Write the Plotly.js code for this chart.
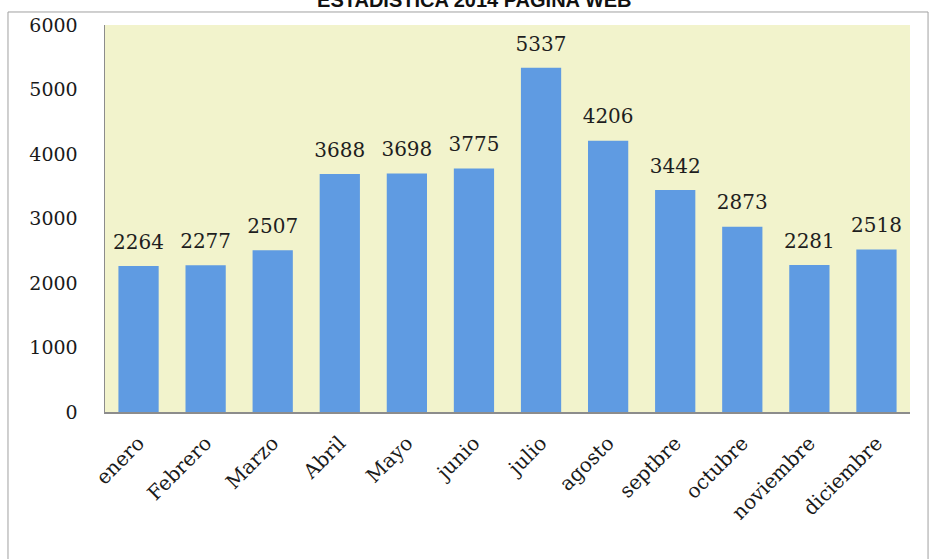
<!DOCTYPE html>
<html>
<head>
<meta charset="utf-8">
<script src="https://cdn.plot.ly/plotly-3.0.1.min.js"></script>
<style>
  html, body { margin: 0; padding: 0; background: #ffffff; }
  #chart { width: 930px; height: 559px; }
</style>
</head>
<body>
<div id="chart"></div>
<script>
const months = ["enero", "Febrero", "Marzo", "Abril", "Mayo", "junio", "julio", "agosto", "septbre", "octubre", "noviembre", "diciembre"];
const visits = [2264, 2277, 2507, 3688, 3698, 3775, 5337, 4206, 3442, 2873, 2281, 2518];
const yTicks = [0, 1000, 2000, 3000, 4000, 5000, 6000];
const chartTitle = "ESTADISTICA 2014 PAGINA WEB";

const serif = "DejaVu Serif, Liberation Serif, serif";

const bars = {
  type: "bar",
  x: months,
  y: visits,
  marker: {
    color: "#5f9be2",
    line: { width: 0 }
  },
  hoverinfo: "x+y"
};

const labels = {
  type: "scatter",
  mode: "markers+text",
  x: months,
  y: visits,
  text: visits.map(String),
  textposition: "top center",
  cliponaxis: false,
  marker: { size: 18, opacity: 0 },
  textfont: { family: serif, size: 20, color: "#1e1e1e" },
  hoverinfo: "skip"
};

const layout = {
  width: 930,
  height: 559,
  margin: { l: 105, r: 20, t: 25, b: 147 },
  paper_bgcolor: "#ffffff",
  plot_bgcolor: "#f2f3cc",
  bargap: 0.4,
  showlegend: false,
  title: {
    text: "<b>" + chartTitle + "</b>",
    font: { family: "Liberation Sans, Arial, sans-serif", size: 20, color: "#111111" },
    x: 0.51, xanchor: "center",
    y: 1.0, yref: "container", yanchor: "middle"
  },
  xaxis: {
    type: "category",
    range: [-0.5, months.length - 0.5],
    tickangle: -45,
    showline: true,
    linecolor: "#8c8c8c",
    linewidth: 1.5,
    ticks: "",
    showgrid: false,
    ticklabelstandoff: 10,
    tickfont: { family: serif, size: 20, color: "#1a1a1a" }
  },
  yaxis: {
    range: [0, 6000],
    tickvals: yTicks,
    showline: true,
    linecolor: "#8c8c8c",
    linewidth: 1.5,
    ticks: "",
    showgrid: false,
    zeroline: false,
    ticklabelstandoff: 22,
    tickfont: { family: serif, size: 19, color: "#1a1a1a" }
  },
  shapes: [
    {
      type: "rect",
      xref: "paper", yref: "paper",
      x0: -0.1205, x1: 1.0224,
      y0: -0.45, y1: 1.0336,
      line: { color: "#a0a0a0", width: 1 },
      fillcolor: "rgba(0,0,0,0)",
      layer: "below"
    }
  ]
};

Plotly.newPlot("chart", [bars, labels], layout, { displayModeBar: false, staticPlot: true });
</script>
</body>
</html>
